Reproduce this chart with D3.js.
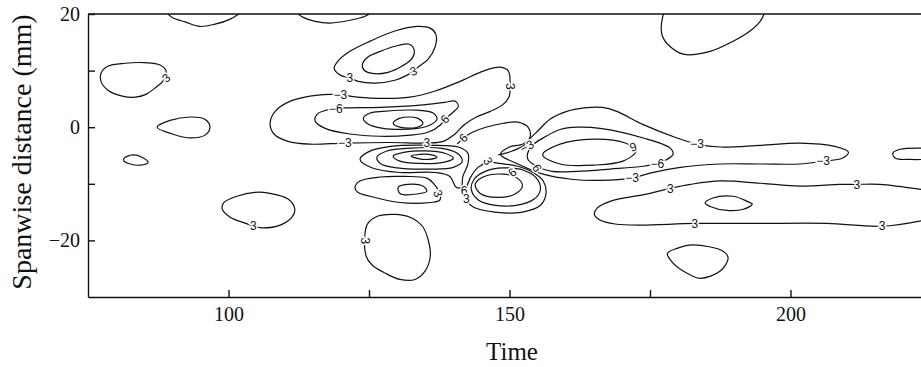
<!DOCTYPE html>
<html>
<head>
<meta charset="utf-8">
<script src="https://cdn.jsdelivr.net/npm/d3@7"></script>
<style>
  body { margin: 0; background: #fff; }
  .tick text { font-family: "Liberation Serif", serif; font-size: 20px; fill: #111; }
  .clabel { font-family: "Liberation Sans", sans-serif; font-size: 12px; fill: #111;
            stroke: #fff; stroke-width: 3px; paint-order: stroke; }
</style>
</head>
<body>
<div id="chart"></div>
<script>
// axis ticks
const xTicks = [100, 125, 150, 175, 200];
const xTickLabels = ["100", "", "150", "", "200"];
const yTicks = [-20, -10, 0, 10, 20];
const yTickLabels = ["\u221220", "", "0", "", "20"];

// contour lines, points are [time, spanwise distance (mm)]
const topA = [[88.7,20.5],[90.0,19.4],[92.3,18.6],[94.9,17.8],[97.6,18.2],[100.3,19.1],[102.6,20.5]];
const topB = [[111.8,20.5],[113.3,19.4],[115.4,18.7],[118.1,18.4],[121.6,18.9],[124.3,19.6],[125.7,20.5]];
const topC = [[177.5,20.5],[177.0,17.8],[177.2,16.1],[178.1,14.7],[180.9,12.9],[185.7,13.4],[189.8,15.2],[192.8,17.0],[194.6,18.7],[195.5,20.5]];
const leftA = [[88.9,9.9],[87.8,11.0],[85.1,11.4],[81.6,11.3],[78.6,10.8],[77.3,9.5],[77.3,8.1],[78.6,6.5],[81.1,5.5],[83.4,5.3],[85.3,5.8],[86.9,6.9],[88.3,8.1]];
const leftB = [[87.3,0],[89.6,1.2],[93.2,1.8],[95.8,1.4],[96.7,0],[95.8,-1.4],[93.2,-1.9],[90.0,-1.2]];
const leftC = [[81.4,-5.5],[83.0,-4.9],[84.6,-5.3],[85.7,-6.2],[84.3,-6.7],[82.5,-6.5],[81.4,-6.0]];
const lowA = [[106.0,-17.8],[109.2,-17.3],[111.3,-15.9],[111.8,-14.5],[110.6,-12.7],[107.4,-11.7],[104.7,-11.5],[101.5,-12.2],[99.2,-13.3],[98.9,-14.5],[100.3,-15.9],[103.1,-17.0],[104.4,-17.5]];
const lowB = [[124.3,-18.7],[124.5,-22.8],[125.6,-24.4],[127.9,-25.8],[130.5,-26.9],[133.2,-26.9],[135.0,-25.4],[135.9,-22.8],[135.5,-19.8],[134.5,-17.5],[132.3,-15.9],[129.6,-15.4],[126.6,-15.7],[124.8,-17.0]];
const ringOuter = [[133.7,10.6],[135.5,12.0],[136.8,14.3],[136.9,16.4],[135.9,17.5],[133.6,17.8],[129.6,17.0],[125.2,15.2],[121.6,13.4],[119.5,11.7],[118.8,10.4],[119.9,9.2],[121.6,8.7],[123.1,8.1],[126.1,7.8],[129.6,8.3],[131.8,9.2],[132.9,9.9]];
const ringInner = [[123.8,11.0],[124.8,12.4],[127.0,13.4],[129.6,14.3],[132.0,14.7],[133.0,13.8],[132.7,12.2],[130.9,10.8],[128.4,9.7],[125.6,9.5],[124.1,10.1]];
const bandOuter = [[119.9,5.8],[121.6,5.5],[126.4,5.1],[132.3,5.3],[136.8,6.4],[141.2,8.1],[145.3,9.9],[148.3,10.6],[149.8,9.9],[150.1,7.2],[149.9,5.3],[148.7,3.9],[146.6,2.8],[144.1,1.8],[141.9,0.4],[140.3,-1.2],[138.2,-2.5],[135.3,-2.8],[128.8,-2.7],[120.7,-2.8],[114.5,-3.0],[110.6,-2.5],[108.1,-1.2],[107.4,0.7],[108.3,2.8],[111.0,4.6],[114.5,5.5],[118.1,5.8]];
const band6 = [[119.1,3.2],[120.7,3.4],[127.0,3.5],[134.1,3.9],[138.5,4.4],[140.3,4.6],[140.9,3.7],[139.8,2.5],[138.5,1.4],[137.7,0.4],[135.5,-0.9],[132.3,-1.4],[127.0,-1.6],[121.6,-1.2],[117.2,-0.2],[115.4,1.1],[115.8,2.3],[117.4,3.0]];
const band9 = [[124.0,1.6],[125.2,2.5],[127.5,2.8],[133.6,3.0],[136.4,2.5],[137.1,1.4],[135.9,0.4],[133.6,-0.2],[127.5,-0.2],[124.6,0.7]];
const band12 = [[129.3,0.7],[130.5,1.6],[133.6,1.6],[134.6,0.7],[133.6,0],[130.5,0]];
const lobe6 = [[140.7,-3.0],[141.8,-1.9],[143.4,-0.9],[145.8,0],[148.9,0.7],[151.5,0.9],[153.3,0],[153.7,-1.6],[152.6,-3.2],[150.5,-4.2],[148.0,-4.9]];
const midA = [[132.5,-5.1],[134.1,-4.8],[136.2,-4.9],[137.1,-5.3],[135.5,-5.7],[133.6,-5.5]];
const midB = [[129.3,-5.1],[131.4,-4.4],[135.0,-4.2],[138.5,-4.6],[140.0,-5.5],[138.2,-6.2],[134.1,-6.4],[130.5,-6.0]];
const midC = [[126.4,-5.3],[128.2,-4.2],[132.3,-3.7],[137.7,-3.7],[140.7,-4.6],[141.6,-6.0],[140.0,-7.1],[135.9,-7.4],[130.0,-7.2],[127.0,-6.4]];
const midD = [[123.4,-5.7],[124.8,-4.4],[128.8,-3.4],[135.9,-3.2],[140.9,-3.5],[142.6,-4.6],[142.6,-6.5],[141.7,-8.7],[141.4,-10.6],[140.5,-10.6],[139.4,-8.7],[136.8,-8.0],[130.5,-8.0],[125.6,-7.2]];
const midLowA = [[122.5,-10.6],[123.4,-9.5],[127.0,-8.8],[131.4,-8.7],[135.3,-9.0],[136.6,-10.1],[137.6,-11.7],[137.6,-12.9],[135.9,-13.3],[130.5,-13.3],[125.2,-12.2],[123.0,-11.5]];
const midLowB = [[130.2,-10.6],[131.8,-10.1],[134.6,-10.4],[135.3,-11.3],[133.6,-11.8],[130.5,-11.7]];
const lrA = [[143.9,-10.1],[145.3,-8.8],[148.9,-8.3],[151.4,-9.0],[152.3,-10.4],[151.0,-11.8],[147.8,-12.4],[144.8,-11.7]];
const lrB = [[143.2,-11.0],[143.7,-9.2],[145.7,-7.8],[148.9,-7.2],[152.5,-7.6],[154.8,-9.0],[155.5,-11.0],[154.4,-12.7],[151.2,-13.8],[147.5,-13.8],[144.5,-12.9]];
const lrC = [[142.3,-12.7],[143.4,-14.0],[147.4,-15.0],[152.3,-15.0],[155.5,-13.8],[156.5,-11.7],[156.0,-9.5],[154.2,-8.0],[151.5,-6.9],[148.3,-6.4],[146.2,-6.2],[144.4,-7.1],[143.0,-9.0],[142.3,-11.0]];
const rc3 = [[148.4,-4.8],[150.0,-3.5],[152.3,-3.0],[154.6,-1.1],[157.2,1.4],[160.2,2.8],[163.3,3.4],[166.5,3.5],[169.1,2.8],[173.7,0.5],[179.8,-1.9],[183.4,-3.0],[187.5,-3.5],[194.6,-3.2],[201.7,-2.8],[207.9,-3.4],[210.3,-4.4],[209.2,-5.5],[205.8,-6.0],[201.7,-6.5],[194.6,-6.5],[187.5,-6.5],[180.4,-7.1],[175.0,-8.1],[171.8,-9.0],[166.1,-9.4],[161.0,-9.2],[156.0,-8.3],[151.5,-6.5]];
const rc6 = [[153.2,-5.5],[153.9,-3.4],[156.5,-1.6],[159.0,-0.4],[162.0,0],[166.1,-0.2],[173.8,-1.9],[178.6,-3.7],[179.1,-4.8],[178.0,-5.7],[176.3,-6.4],[173.8,-6.9],[167.9,-7.4],[162.0,-7.8],[157.6,-7.8],[155.0,-7.0]];
const rc9 = [[155.9,-4.9],[159.0,-3.0],[164.9,-2.1],[170.6,-2.8],[172.5,-4.2],[170.2,-6.0],[164.9,-6.7],[159.0,-6.5]];
const bandLow = [[223.9,-11.1],[215.9,-10.1],[211.8,-10.1],[208.8,-10.1],[201.7,-10.4],[194.6,-9.9],[187.5,-9.5],[182.2,-10.1],[178.6,-10.8],[175.0,-11.7],[167.9,-13.1],[165.6,-14.3],[165.1,-15.4],[166.1,-16.4],[168.8,-17.1],[173.2,-17.3],[183.0,-17.0],[194.6,-17.0],[206.5,-17.0],[216.3,-17.5],[223.9,-16.4]];
const islandA = [[184.8,-13.4],[186.2,-12.5],[189.8,-12.2],[192.3,-13.1],[193.2,-13.6],[191.6,-14.5],[188.7,-14.7],[185.7,-14.0]];
const islandB = [[178.1,-22.3],[179.8,-21.4],[182.7,-20.8],[188.0,-21.9],[188.9,-23.1],[187.5,-25.4],[183.9,-26.7],[181.6,-25.8],[179.1,-24.0]];
const edgeR = [[223.9,-3.7],[219.5,-3.9],[218.2,-4.6],[218.7,-5.5],[221.3,-5.7],[223.9,-5.7]];

const contours = [
  { pts: topA, closed: false }, { pts: topB, closed: false }, { pts: topC, closed: false },
  { pts: leftA, closed: true }, { pts: leftB, closed: true }, { pts: leftC, closed: true },
  { pts: lowA, closed: true }, { pts: lowB, closed: true },
  { pts: ringOuter, closed: true }, { pts: ringInner, closed: true },
  { pts: bandOuter, closed: true }, { pts: band6, closed: true }, { pts: band9, closed: true }, { pts: band12, closed: true },
  { pts: lobe6, closed: false },
  { pts: midA, closed: true }, { pts: midB, closed: true }, { pts: midC, closed: true }, { pts: midD, closed: true },
  { pts: midLowA, closed: true }, { pts: midLowB, closed: true },
  { pts: lrA, closed: true }, { pts: lrB, closed: true }, { pts: lrC, closed: true },
  { pts: rc3, closed: true }, { pts: rc6, closed: true }, { pts: rc9, closed: true },
  { pts: bandLow, closed: false }, { pts: islandA, closed: true }, { pts: islandB, closed: true },
  { pts: edgeR, closed: false }
];

// contour labels: [time, mm, text, rotation]
const labels = [
  [88.9, 8.7, "3", -40], [104.4, -17.5, "3", 0], [121.6, 8.7, "3", 0], [132.9, 9.9, "3", -20],
  [119.9, 5.8, "\u22123", 0], [119.1, 3.2, "\u22126", 0], [120.7, -2.8, "\u22123", 0], [135.3, -2.8, "3", 0],
  [138.5, 1.4, "6", -45], [141.8, -1.9, "6", -45], [150.1, 7.2, "3", 90], [146.2, -6.0, "3", 60],
  [141.9, -11.3, "6", 0], [142.3, -12.7, "3", 0], [137.3, -11.7, "3", 70], [150.5, -8.0, "6", -40],
  [124.3, -20.1, "3", 90], [153.1, -3.4, "\u22123", -30], [154.9, -7.2, "6", 60], [172.0, -3.5, "9", -20],
  [176.3, -6.4, "\u22126", 0], [183.4, -3.0, "\u22123", 0], [171.8, -9.0, "\u22123", 0], [205.8, -6.0, "\u22123", 0],
  [178.6, -10.8, "3", 0], [211.8, -10.1, "3", 0], [183.0, -17.0, "3", 0], [216.3, -17.5, "3", 0]
];

const width = 921, height = 367;
const x = d3.scaleLinear().domain([75, 225]).range([88, 931]);
const y = d3.scaleLinear().domain([-30, 20]).range([297, 14]);

const svg = d3.select("#chart").append("svg")
  .attr("width", width)
  .attr("height", height);

svg.append("clipPath").attr("id", "plot")
  .append("rect")
  .attr("x", x(75)).attr("y", y(20))
  .attr("width", x(225) - x(75)).attr("height", y(-30) - y(20));

const plot = svg.append("g").attr("clip-path", "url(#plot)");

const line = d3.line().x(d => x(d[0])).y(d => y(d[1]));

plot.selectAll("path.contour")
  .data(contours)
  .enter().append("path")
  .attr("class", "contour")
  .attr("d", d => line.curve(d.closed ? d3.curveCatmullRomClosed.alpha(0.5) : d3.curveCatmullRom.alpha(0.5))(d.pts))
  .attr("fill", "none")
  .attr("stroke", "#111")
  .attr("stroke-width", 1.2);

plot.selectAll("text.clabel")
  .data(labels)
  .enter().append("text")
  .attr("class", "clabel")
  .attr("text-anchor", "middle")
  .attr("dy", "0.35em")
  .attr("transform", d => "translate(" + x(d[0]) + "," + y(d[1]) + ") rotate(" + d[3] + ")")
  .text(d => d[2]);

// axes, ticks point inward
const xAxis = d3.axisBottom(x)
  .tickValues(xTicks)
  .tickFormat((d, i) => xTickLabels[i])
  .tickSizeInner(-7).tickSizeOuter(0).tickPadding(10);
const yAxis = d3.axisLeft(y)
  .tickValues(yTicks)
  .tickFormat((d, i) => yTickLabels[i])
  .tickSizeInner(-7).tickSizeOuter(0).tickPadding(8);

const gx = svg.append("g").attr("transform", "translate(0," + y(-30) + ")").call(xAxis);
const gy = svg.append("g").attr("transform", "translate(" + x(75) + ",0)").call(yAxis);
[gx, gy].forEach(g => {
  g.selectAll("path, line").attr("stroke", "#111").attr("stroke-width", 1.4);
});

svg.append("line")
  .attr("x1", x(75)).attr("x2", x(225))
  .attr("y1", y(20)).attr("y2", y(20))
  .attr("stroke", "#111").attr("stroke-width", 1.4);

svg.append("text")
  .attr("x", 512).attr("y", 360)
  .attr("text-anchor", "middle")
  .style("font-family", "Liberation Serif, serif")
  .style("font-size", "25px")
  .attr("fill", "#111")
  .text("Time");

svg.append("text")
  .attr("transform", "translate(31,152) rotate(-90)")
  .attr("text-anchor", "middle")
  .style("font-family", "Liberation Serif, serif")
  .style("font-size", "28px")
  .attr("fill", "#111")
  .text("Spanwise distance (mm)");
</script>
</body>
</html>
